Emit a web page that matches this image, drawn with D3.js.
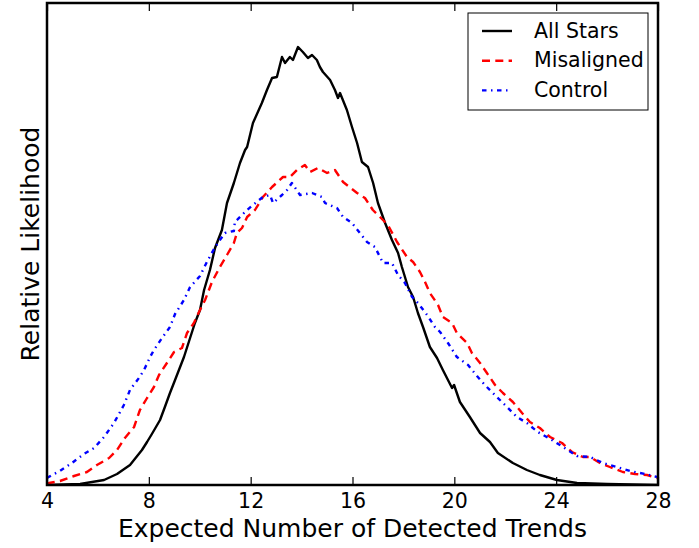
<!DOCTYPE html>
<html>
<head>
<meta charset="utf-8">
<script src="https://cdn.jsdelivr.net/npm/d3@7"></script>
<style>
  html, body { margin: 0; padding: 0; background: #fff; }
  svg { display: block; }
  text { font-family: "DejaVu Sans", sans-serif; fill: #000; }
</style>
</head>
<body>
<div id="chart"></div>
<script>
// ---- Data (relative likelihood, arbitrary units) ----
const xTicks = [4, 8, 12, 16, 20, 24, 28];
const seriesNames = ["All Stars", "Misaligned", "Control"];

const allStarsX = [4.00,5.30,6.24,6.75,7.26,7.73,7.93,8.12,8.44,8.63,8.83,9.03,9.38,9.62,9.81,10.01,10.17,10.40,10.60,10.87,11.07,11.34,11.58,11.78,11.86,12.09,12.44,12.64,12.84,13.03,13.23,13.35,13.54,13.66,13.86,14.05,14.25,14.41,14.60,14.72,14.84,15.12,15.31,15.43,15.51,15.78,15.98,16.18,16.37,16.61,16.81,17.00,17.28,17.55,17.79,17.94,18.18,18.38,18.57,18.77,19.04,19.32,19.55,19.91,19.99,20.22,20.61,21.01,21.40,21.71,22.30,22.85,23.36,24.03,24.82,26.00,27.96];
const allStarsY = [0,1,5,11,20,35,43,51,65,78,92,105,128,147,162,175,195,215,237,255,282,302,322,335,338,362,382,395,407,408,428,422,428,425,438,433,427,430,425,418,413,405,395,387,392,375,358,342,323,318,302,282,262,245,232,218,198,188,172,158,138,127,115,97,100,83,68,52,43,32,22,15,10,5,2,1,0];

const misalignedX = [4.00,4.08,4.51,5.06,5.57,5.96,6.44,6.75,7.06,7.42,7.65,7.93,8.20,8.40,8.71,8.99,9.30,9.50,9.77,9.97,10.21,10.48,10.79,11.07,11.34,11.46,11.66,11.86,12.17,12.48,12.84,13.27,13.54,13.82,14.13,14.33,14.64,15.00,15.31,15.63,16.18,16.49,16.80,17.08,17.39,17.75,18.14,18.38,18.65,18.85,19.04,19.36,19.55,19.91,20.10,20.50,20.69,21.01,21.28,21.60,21.91,22.30,22.66,22.97,23.36,23.76,24.23,24.62,25.05,25.33,25.72,26.11,26.62,27.10,27.57,27.96];
const misalignedY = [1,2,4,9,13,20,27,35,47,58,75,87,98,110,122,133,137,152,162,173,185,203,218,230,242,252,257,268,275,288,298,308,308,315,320,313,317,312,315,303,292,287,275,268,260,243,228,223,213,203,192,180,168,162,152,142,132,122,112,100,92,83,72,63,57,48,42,33,28,28,22,18,13,11,10,7];

const controlX = [4.00,4.20,4.51,4.98,5.45,5.85,6.24,6.63,7.02,7.26,7.61,7.81,8.05,8.20,8.52,8.83,9.03,9.38,9.62,10.01,10.28,10.56,10.79,10.99,11.34,11.38,11.66,11.86,12.09,12.48,12.76,12.88,13.23,13.43,13.62,13.94,14.41,14.80,14.92,15.39,15.63,15.98,16.29,16.57,16.88,17.20,17.55,17.79,18.06,18.34,18.57,18.93,19.24,19.44,19.75,20.10,20.54,20.89,21.20,21.67,22.07,22.46,22.85,23.28,23.83,24.27,24.82,25.33,25.84,26.39,26.90,27.49,27.96];
const controlY = [7,10,14,22,31,37,48,62,80,95,107,115,128,135,147,158,171,185,198,209,223,236,245,252,254,263,270,275,280,288,290,282,290,295,302,290,292,288,282,277,268,262,252,243,238,222,222,210,202,188,182,170,158,153,142,128,120,109,100,88,78,68,62,53,45,38,29,28,22,18,14,11,8];

const yMax = 482;

// ---- Layout ----
const W = 699, H = 548;
const plot = { left: 47, right: 658, top: 3, bottom: 485 };

const svg = d3.select("#chart").append("svg")
  .attr("width", W).attr("height", H);

const x = d3.scaleLinear().domain([4, 28]).range([plot.left, plot.right]);
const y = d3.scaleLinear().domain([0, yMax]).range([plot.bottom, plot.top]);

const series = [
  { name: seriesNames[0], xs: allStarsX, ys: allStarsY, color: "#000000", dash: null, width: 2.4 },
  { name: seriesNames[1], xs: misalignedX, ys: misalignedY, color: "#ff0000", dash: "8,5.3", width: 2.4 },
  { name: seriesNames[2], xs: controlX, ys: controlY, color: "#0000ff", dash: "4.5,4.5,1.5,4.5", width: 2.4 }
];

svg.append("clipPath").attr("id", "clip")
  .append("rect").attr("x", plot.left).attr("y", plot.top)
  .attr("width", plot.right - plot.left).attr("height", plot.bottom - plot.top);

const line = d3.line().x(d => x(d[0])).y(d => y(d[1]));

const g = svg.append("g").attr("clip-path", "url(#clip)");
series.forEach(s => {
  const pts = s.xs.map((v, i) => [v, s.ys[i]]);
  g.append("path")
    .datum(pts)
    .attr("d", line)
    .attr("fill", "none")
    .attr("stroke", s.color)
    .attr("stroke-width", s.width)
    .attr("stroke-dasharray", s.dash)
    .attr("stroke-linejoin", "round");
});

// Bottom axis (ticks inward)
const xAxis = svg.append("g")
  .attr("transform", `translate(0,${plot.bottom})`)
  .call(d3.axisBottom(x).tickValues(xTicks).tickSize(-8).tickFormat(d3.format("d")));
xAxis.select(".domain").remove();
xAxis.selectAll(".tick line").attr("stroke", "#000").attr("stroke-width", 1.2);
xAxis.selectAll(".tick text")
  .attr("y", 23).attr("dy", null)
  .style("font-size", "20.5px").style("font-family", "DejaVu Sans, sans-serif");

// Top axis (ticks inward, no labels)
const xTop = svg.append("g")
  .attr("transform", `translate(0,${plot.top})`)
  .call(d3.axisTop(x).tickValues(xTicks).tickSize(-8).tickFormat(""));
xTop.select(".domain").remove();
xTop.selectAll(".tick line").attr("stroke", "#000").attr("stroke-width", 1.2);

// Frame
svg.append("rect")
  .attr("x", plot.left).attr("y", plot.top)
  .attr("width", plot.right - plot.left).attr("height", plot.bottom - plot.top)
  .attr("fill", "none").attr("stroke", "#000").attr("stroke-width", 2.5);

// Axis labels
svg.append("text")
  .attr("x", (plot.left + plot.right) / 2).attr("y", 537)
  .attr("text-anchor", "middle")
  .style("font-size", "25px")
  .text("Expected Number of Detected Trends");

svg.append("text")
  .attr("transform", `translate(39,${(plot.top + plot.bottom) / 2}) rotate(-90)`)
  .attr("text-anchor", "middle")
  .style("font-size", "25px")
  .text("Relative Likelihood");

// Legend
const leg = svg.append("g");
leg.append("rect")
  .attr("x", 468).attr("y", 13).attr("width", 180).attr("height", 97)
  .attr("fill", "#fff").attr("stroke", "#000").attr("stroke-width", 1);
series.forEach((s, i) => {
  const ly = 31 + i * 29.7;
  leg.append("line")
    .attr("x1", 482).attr("x2", 512).attr("y1", ly).attr("y2", ly)
    .attr("stroke", s.color).attr("stroke-width", s.width)
    .attr("stroke-dasharray", s.dash);
  leg.append("text")
    .attr("x", 534).attr("y", ly + 6.5)
    .style("font-size", "20.5px")
    .text(s.name);
});
</script>
</body>
</html>
